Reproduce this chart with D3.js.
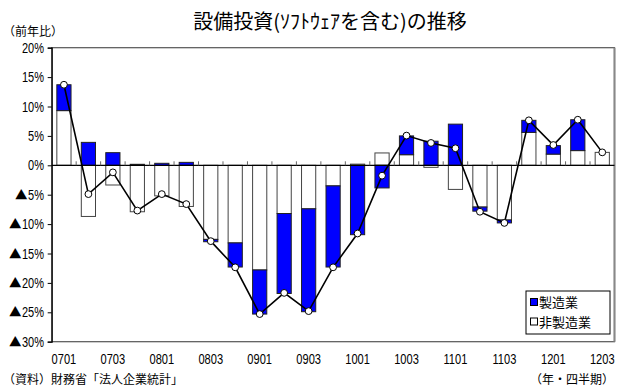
<!DOCTYPE html>
<html>
<head>
<meta charset="utf-8">
<script src="https://cdn.jsdelivr.net/npm/d3@7"></script>
<style>
  body { margin: 0; background: #fff; }
  svg { display: block; }
</style>
</head>
<body>
<svg id="chart" width="617" height="388"></svg>
<script>
// Quarterly data (year/quarter code), contributions in percentage points
const quarters = ["0701","0702","0703","0704","0801","0802","0803","0804",
                  "0901","0902","0903","0904","1001","1002","1003","1004",
                  "1101","1102","1103","1104","1201","1202","1203"];
const manufacturing = [4.4, 3.9, 2.15, 0.17, 0.34, 0.5, -0.4, -4.1,
                       -7.5, -13.6, -17.5, -13.8, -11.8, -3.85, 3.2, 4.1,
                       7.0, -0.7, -0.5, 2.05, 1.45, 5.25, 0.0];
const nonManufacturing = [9.3, -8.7, -3.35, -7.9, -5.2, -7.0, -12.6, -13.2,
                          -17.8, -8.2, -7.4, -3.5, 0.2, 2.1, 1.8, -0.35,
                          -4.1, -7.1, -9.3, 5.6, 1.9, 2.5, 2.2];
const totalGrowth = [13.7, -4.9, -1.2, -7.7, -4.9, -6.6, -12.9, -17.35,
                     -25.3, -21.7, -24.8, -17.35, -11.6, -1.76, 5.05, 3.8,
                     2.9, -7.9, -9.8, 7.65, 3.45, 7.75, 2.2];
const yTicks = [20, 15, 10, 5, 0, -5, -10, -15, -20, -25, -30];
const xLabelQuarters = quarters.filter((q, i) => i % 2 === 0);
const seriesNames = ["製造業", "非製造業"];

const svg = d3.select("#chart");
const plot = { left: 51.7, right: 614.5, top: 47.7, bottom: 341.7 };
const jpFont = "'Noto Sans CJK JP', sans-serif";
const numFont = "'Liberation Sans', Arial, sans-serif";

const x = d3.scaleBand()
  .domain(quarters)
  .range([plot.left, plot.right])
  .paddingInner(0.42)
  .paddingOuter(0.21);

const y = d3.scaleLinear()
  .domain([-30, 20])
  .range([plot.bottom, plot.top]);

// Plot frame
svg.append("rect")
  .attr("x", plot.left).attr("y", plot.top)
  .attr("width", plot.right - plot.left)
  .attr("height", plot.bottom - plot.top)
  .attr("fill", "#fff")
  .attr("stroke", "#555").attr("stroke-width", 1.2);
svg.append("line")
  .attr("x1", plot.right).attr("x2", plot.right)
  .attr("y1", plot.top).attr("y2", plot.bottom)
  .attr("stroke", "#888").attr("stroke-width", 2);

// Stacked columns: non-manufacturing next to zero, manufacturing beyond it
const rows = quarters.map((q, i) => ({ q, nonMfg: nonManufacturing[i], mfg: manufacturing[i] }));
const stacked = d3.stack()
  .keys(["nonMfg", "mfg"])
  .offset(d3.stackOffsetDiverging)(rows);
const fills = { nonMfg: "#ffffff", mfg: "#0000ff" };

svg.append("g").selectAll("g")
  .data(stacked)
  .join("g")
  .attr("fill", d => fills[d.key])
  .attr("stroke", d => d.key === "mfg" ? "#222" : "#444")
  .attr("stroke-width", 1)
  .selectAll("rect")
  .data(d => d)
  .join("rect")
  .attr("x", d => x(d.data.q))
  .attr("width", x.bandwidth())
  .attr("y", d => y(Math.max(d[0], d[1])))
  .attr("height", d => Math.abs(y(d[0]) - y(d[1])));

// Zero line with category separator ticks
svg.append("line")
  .attr("x1", plot.left).attr("x2", plot.right)
  .attr("y1", y(0)).attr("y2", y(0))
  .attr("stroke", "#000").attr("stroke-width", 1.2);
const gap = (x.step() - x.bandwidth()) / 2;
svg.append("g").selectAll("line")
  .data(quarters.slice(0, -1))
  .join("line")
  .attr("x1", d => x(d) + x.bandwidth() + gap)
  .attr("x2", d => x(d) + x.bandwidth() + gap)
  .attr("y1", y(0)).attr("y2", y(0) - 4)
  .attr("stroke", "#666").attr("stroke-width", 1);

// Total growth line with markers
const linePts = quarters.map((q, i) => [x(q) + x.bandwidth() / 2, y(totalGrowth[i])]);
svg.append("path")
  .attr("d", d3.line()(linePts))
  .attr("fill", "none")
  .attr("stroke", "#000")
  .attr("stroke-width", 1.6);
svg.append("g").selectAll("circle")
  .data(linePts)
  .join("circle")
  .attr("cx", d => d[0]).attr("cy", d => d[1])
  .attr("r", 3.4)
  .attr("fill", "#fff").attr("stroke", "#000").attr("stroke-width", 1);

// Y axis
const yAxis = svg.append("g")
  .attr("transform", `translate(${plot.left},0)`)
  .call(d3.axisLeft(y).tickValues(yTicks).tickSize(4).tickFormat(""));
yAxis.select(".domain").attr("stroke", "#000").attr("stroke-width", 1.2);
yAxis.selectAll(".tick line").attr("stroke", "#000");

const yLab = svg.append("g");
yTicks.forEach(v => {
  const t = yLab.append("text")
    .attr("text-anchor", "end")
    .attr("font-family", numFont)
    .attr("font-size", 14.5)
    .attr("fill", "#000")
    .attr("transform", `translate(44,${y(v) + 5}) scale(0.76,1)`)
    .text(`${Math.abs(v)}%`);
  if (v < 0) {
    const w = t.node().getComputedTextLength() * 0.76;
    yLab.append("text")
      .attr("x", 44 - w - 0.5).attr("y", y(v) + 5)
      .attr("text-anchor", "end")
      .attr("font-family", jpFont)
      .attr("font-size", 12.5)
      .attr("fill", "#000")
      .text("▲");
  }
});

// X labels
svg.append("g").selectAll("text")
  .data(xLabelQuarters)
  .join("text")
  .attr("text-anchor", "middle")
  .attr("font-family", numFont)
  .attr("font-size", 15)
  .attr("fill", "#000")
  .attr("transform", d => `translate(${x(d) + x.bandwidth() / 2},${364}) scale(0.74,1)`)
  .text(d => d);

// Title and notes
svg.append("text")
  .attr("x", 330).attr("y", 29)
  .attr("text-anchor", "middle")
  .attr("font-family", jpFont)
  .attr("font-size", 20)
  .attr("fill", "#000")
  .text("設備投資(ｿﾌﾄｳｪｱを含む)の推移");
svg.append("text")
  .attr("x", 3).attr("y", 36)
  .attr("font-family", jpFont).attr("font-size", 12)
  .text("（前年比）");
svg.append("text")
  .attr("x", 3).attr("y", 384)
  .attr("font-family", jpFont).attr("font-size", 12)
  .text("（資料）財務省「法人企業統計」");
svg.append("text")
  .attr("x", 614).attr("y", 384)
  .attr("text-anchor", "end")
  .attr("font-family", jpFont).attr("font-size", 12)
  .text("（年・四半期）");

// Legend
const legend = svg.append("g");
legend.append("rect")
  .attr("x", 526).attr("y", 291).attr("width", 84).attr("height", 43)
  .attr("fill", "#fff").attr("stroke", "#000").attr("stroke-width", 1);
[["mfg", seriesNames[0]], ["nonMfg", seriesNames[1]]].forEach(([key, label], i) => {
  const cy = 302.5 + i * 19.5;
  legend.append("rect")
    .attr("x", 530.5).attr("y", cy - 4).attr("width", 7).attr("height", 7)
    .attr("fill", fills[key]).attr("stroke", "#000").attr("stroke-width", 1);
  legend.append("text")
    .attr("x", 539).attr("y", cy + 4.5)
    .attr("font-family", jpFont).attr("font-size", 13)
    .attr("fill", "#000")
    .text(label);
});
</script>
</body>
</html>
